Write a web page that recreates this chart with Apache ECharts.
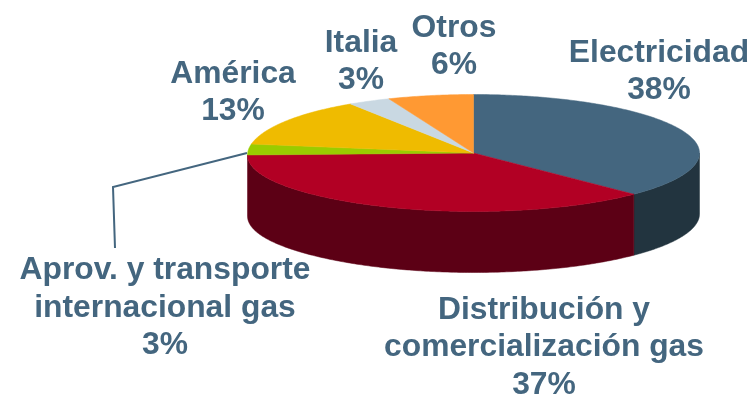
<!DOCTYPE html>
<html>
<head>
<meta charset="utf-8">
<style>html,body{margin:0;padding:0;background:#fff}#chart{width:753px;height:394px}</style>
<script src="https://cdn.jsdelivr.net/npm/echarts@6/dist/echarts.min.js"></script>
</head>
<body>
<div id="chart"></div>
<script>
// Share of business by activity, in percent, clockwise from twelve o'clock
const categories = ['Electricidad', 'Distribución y\ncomercialización gas', 'Aprov. y transporte\ninternacional gas', 'América', 'Italia', 'Otros'];
const shares = [38, 37, 3, 13, 3, 6];
const topColors = ['#44667f', '#b20024', '#99cc00', '#efbb00', '#c9d8e2', '#ff9933'];
const sideColors = ['#22343f', '#5c0015', '#4d6600', '#786000', '#657078', '#804d1a'];

// Tilted disc geometry
const disc = { cx: 473.5, cy: 153, rx: 226, ry: 58.5, depth: 61, nearSkew: 2, farSkew: 0.6, leftDroop: 2 };
const labelCentres = [[659, 72], [544, 347.5], [165, 308], [233, 93], [361, 61.5], [454, 47]];
const leaderPath = [[247, 153], [113, 187], [115, 248]];
const inkColor = '#44667f';
const total = shares.reduce((a, b) => a + b, 0);

// Slice boundaries shift a little under the viewing perspective,
// and the disc's left end sits slightly lower than its right end
const rim = (deg, drop) => {
  const skew = deg > 270 ? disc.farSkew : disc.nearSkew;
  const t = (deg + skew * Math.sin(2 * deg * Math.PI / 180)) * Math.PI / 180;
  const droop = disc.leftDroop * Math.pow(Math.max(0, -Math.sin(t)), 6);
  return [disc.cx + disc.rx * Math.sin(t), disc.cy - disc.ry * Math.cos(t) + droop + (drop || 0)];
};
const arc = (from, to, drop) => {
  const pts = [];
  const steps = Math.max(2, Math.ceil(Math.abs(to - from) * 1.5));
  for (let i = 0; i <= steps; i++) pts.push(rim(from + (to - from) * i / steps, drop));
  return pts;
};

function renderItem(params, api) {
  const i = params.dataIndex;
  const before = shares.slice(0, i).reduce((a, b) => a + b, 0);
  const start = before / total * 360;
  const end = start + api.value(0) / total * 360;
  const children = [];

  // Wall is visible only on the near half of the rim
  const wallFrom = Math.max(start, 90), wallTo = Math.min(end, 270);
  if (wallFrom < wallTo) {
    const wall = arc(wallFrom, wallTo, 0).concat(arc(wallTo, wallFrom, disc.depth));
    children.push({
      type: 'polygon', shape: { points: wall },
      style: { fill: sideColors[i], stroke: sideColors[i], lineWidth: 0.5 }
    });
  }

  // Top face
  children.push({
    type: 'polygon',
    shape: { points: [[disc.cx, disc.cy]].concat(arc(start, end, 0)) },
    style: { fill: topColors[i], stroke: topColors[i], lineWidth: 0.5 }
  });

  // Category name and share
  children.push({
    type: 'text',
    x: labelCentres[i][0], y: labelCentres[i][1],
    style: {
      text: categories[i] + '\n' + api.value(0) + '%',
      fill: inkColor,
      font: 'bold 31.8px "Liberation Sans", Arial, sans-serif',
      lineHeight: 37.3,
      align: 'center', verticalAlign: 'middle'
    },
    z2: 10
  });

  // The narrow slice is labelled through a leader line
  if (i === 2) {
    children.push({
      type: 'polyline', shape: { points: leaderPath },
      style: { fill: null, stroke: inkColor, lineWidth: 2 }
    });
  }
  return { type: 'group', children };
}

const chart = echarts.init(document.getElementById('chart'), null, { renderer: 'canvas' });
chart.setOption({
  animation: false,
  backgroundColor: '#ffffff',
  series: [{
    type: 'custom',
    coordinateSystem: 'none',
    clip: false,
    silent: true,
    renderItem,
    data: shares.map((v, i) => ({ name: categories[i], value: [v] }))
  }]
});
</script>
</body>
</html>
